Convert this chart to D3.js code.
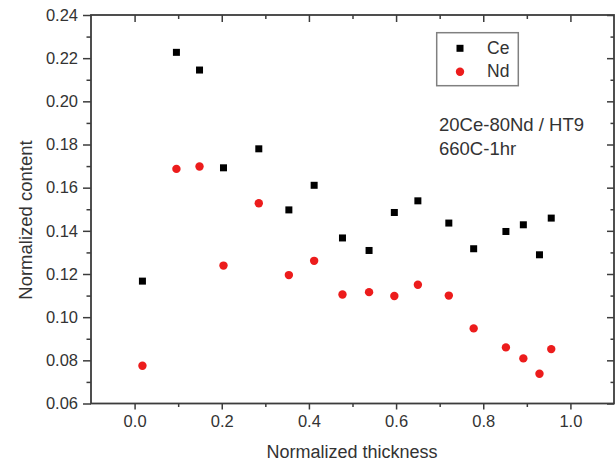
<!DOCTYPE html>
<html><head><meta charset="utf-8">
<script src="https://cdn.jsdelivr.net/npm/d3@7"></script>
<style>
body{margin:0;background:#fff}
svg{display:block}
text{font-family:"Liberation Sans",Arial,sans-serif;fill:#333}
</style>
</head><body>
<svg id="chart" width="616" height="463"></svg>
<script>
const thickness = [0.018,0.096,0.149,0.204,0.285,0.354,0.412,0.477,0.538,0.596,0.650,0.721,0.778,0.852,0.892,0.929,0.956];
const ceValues  = [0.1167,0.2227,0.2145,0.1692,0.1780,0.1497,0.1611,0.1367,0.1309,0.1485,0.1539,0.1436,0.1317,0.1397,0.1428,0.1289,0.1459];
const ndValues  = [0.0775,0.1687,0.1698,0.1239,0.1528,0.1195,0.1261,0.1105,0.1116,0.1098,0.1150,0.1100,0.0948,0.0860,0.0809,0.0738,0.0852];
const xTickValues = [0.0,0.2,0.4,0.6,0.8,1.0];
const xMinorValues = [0.1,0.3,0.5,0.7,0.9];
const yTickValues = [0.06,0.08,0.10,0.12,0.14,0.16,0.18,0.20,0.22,0.24];
const yMinorValues = [0.07,0.09,0.11,0.13,0.15,0.17,0.19,0.21,0.23];
const seriesNames = ["Ce","Nd"];
const xTitle = "Normalized thickness";
const yTitle = "Normalized content";
const noteLines = ["20Ce-80Nd / HT9","660C-1hr"];

const svg = d3.select("#chart");
const L=91, R=614, T=15, B=403.5;
const x = d3.scaleLinear([-0.1,1.1],[L,R]);
const y = d3.scaleLinear([0.06,0.24],[B,T]);
const axisColor = "#3c3c3c";

function styleAxis(g){
  g.select(".domain").remove();
  g.selectAll(".tick line").attr("stroke",axisColor).attr("stroke-width",1.5);
  g.selectAll(".tick text").style("font-size","16.5px").attr("fill","#333");
}

// bottom
svg.append("g").attr("transform",`translate(0,${B})`)
  .call(d3.axisBottom(x).tickValues(xTickValues).tickSize(6).tickPadding(6).tickFormat(d3.format(".1f")))
  .call(styleAxis);
svg.append("g").attr("transform",`translate(0,${B})`)
  .call(d3.axisBottom(x).tickValues(xMinorValues).tickSize(3.5).tickFormat(""))
  .call(styleAxis);
// top
svg.append("g").attr("transform",`translate(0,${T})`)
  .call(d3.axisTop(x).tickValues(xTickValues).tickSize(-7).tickFormat(""))
  .call(styleAxis);
svg.append("g").attr("transform",`translate(0,${T})`)
  .call(d3.axisTop(x).tickValues(xMinorValues).tickSize(-4).tickFormat(""))
  .call(styleAxis);
// left
svg.append("g").attr("transform",`translate(${L},0)`)
  .call(d3.axisLeft(y).tickValues(yTickValues).tickSize(8).tickPadding(5).tickFormat(d3.format(".2f")))
  .call(styleAxis);
svg.append("g").attr("transform",`translate(${L},0)`)
  .call(d3.axisLeft(y).tickValues(yMinorValues).tickSize(4.5).tickFormat(""))
  .call(styleAxis);
// right
svg.append("g").attr("transform",`translate(${R},0)`)
  .call(d3.axisRight(y).tickValues(yTickValues).tickSize(-7).tickFormat(""))
  .call(styleAxis);
svg.append("g").attr("transform",`translate(${R},0)`)
  .call(d3.axisRight(y).tickValues(yMinorValues).tickSize(-3.5).tickFormat(""))
  .call(styleAxis);

// frame
svg.append("rect").attr("x",L).attr("y",T).attr("width",R-L).attr("height",B-T)
  .attr("fill","none").attr("stroke",axisColor).attr("stroke-width",1.8);

// data
const ceData = thickness.map((t,i)=>({t,v:ceValues[i]}));
const ndData = thickness.map((t,i)=>({t,v:ndValues[i]}));
const sq = 7;
svg.append("g").selectAll("rect").data(ceData).join("rect")
  .attr("x",d=>x(d.t)-sq/2).attr("y",d=>y(d.v)-sq/2)
  .attr("width",sq).attr("height",sq).attr("fill","#000");
svg.append("g").selectAll("circle").data(ndData).join("circle")
  .attr("cx",d=>x(d.t)).attr("cy",d=>y(d.v)).attr("r",4.2).attr("fill","#ec1c1c");

// legend
const lg = svg.append("g");
lg.append("rect").attr("x",436.7).attr("y",32.7).attr("width",81.6).attr("height",53)
  .attr("fill","#fff").attr("stroke","#808080").attr("stroke-width",1.5);
lg.append("rect").attr("x",460-sq/2).attr("y",48.3-sq/2).attr("width",sq).attr("height",sq).attr("fill","#000");
lg.append("circle").attr("cx",460).attr("cy",71.7).attr("r",4.2).attr("fill","#ec1c1c");
lg.append("text").attr("x",487).attr("y",54.3).style("font-size","17.5px").text(seriesNames[0]);
lg.append("text").attr("x",487).attr("y",77.3).style("font-size","17.5px").text(seriesNames[1]);

// annotation
svg.append("text").attr("x",439).attr("y",130.7).style("font-size","18.5px").text(noteLines[0]);
svg.append("text").attr("x",439).attr("y",155).style("font-size","18.5px").text(noteLines[1]);

// titles
svg.append("text").attr("x",352).attr("y",458).attr("text-anchor","middle")
  .style("font-size","18px").text(xTitle);
svg.append("text").attr("transform","translate(31.5,220) rotate(-90)").attr("text-anchor","middle")
  .style("font-size","18.5px").text(yTitle);
</script>
</body></html>
